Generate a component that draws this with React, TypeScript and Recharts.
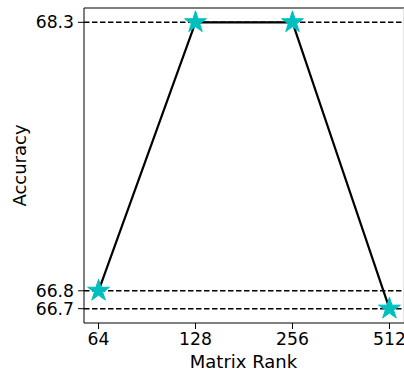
import { LineChart, Line, XAxis, YAxis, ReferenceLine } from "recharts";

const ranks = ["64", "128", "256", "512"];
const accuracy = [66.8, 68.3, 68.3, 66.7];
const yTicks = [66.7, 66.8, 68.3];

const data = ranks.map((r, i) => ({ idx: i, rank: r, acc: accuracy[i] }));

const FONT = "DejaVu Sans";

function Star(props: any) {
  const { cx, cy } = props;
  if (cx == null || cy == null) return null;
  const R = 11.5;
  const r = R * 0.382;
  const pts: string[] = [];
  for (let k = 0; k < 10; k++) {
    const rad = k % 2 === 0 ? R : r;
    const a = -Math.PI / 2 + (k * Math.PI) / 5;
    pts.push(`${cx + rad * Math.cos(a)},${cy + rad * Math.sin(a)}`);
  }
  return <polygon points={pts.join(" ")} fill="#00BFBF" stroke="#00BFBF" strokeWidth={1} />;
}

export default function App() {
  const tick = { fill: "#000", fontSize: 17.2, fontFamily: FONT };
  return (
    <div style={{ position: "absolute", left: 0, top: 0, background: "#fff" }}>
      <LineChart width={404} height={371} data={data} margin={{ top: 8, right: 0, bottom: 0, left: 0 }}>
        <XAxis
          dataKey="idx"
          type="number"
          domain={[-0.15, 3.15]}
          ticks={[0, 1, 2, 3]}
          interval={0}
          tickFormatter={(i: number) => ranks[i]}
          allowDataOverflow
          height={48}
          tick={tick}
          tickSize={6}
          tickMargin={4}
          axisLine={{ stroke: "#000" }}
          tickLine={{ stroke: "#000" }}
        />
        <YAxis
          type="number"
          domain={[66.62, 68.38]}
          ticks={yTicks}
          interval={0}
          tickFormatter={(v: number) => v.toFixed(1)}
          allowDataOverflow
          width={84}
          tick={tick}
          tickSize={6}
          tickMargin={4}
          axisLine={{ stroke: "#000" }}
          tickLine={{ stroke: "#000" }}
        />
        <ReferenceLine y={68.38} stroke="#000" strokeWidth={1} />
        <ReferenceLine x={3.15} stroke="#c8c8c8" strokeWidth={1} />
        {yTicks.map((v) => (
          <ReferenceLine key={v} y={v} stroke="#000" strokeWidth={1.5} strokeDasharray="5.5 2.5" />
        ))}
        <Line
          dataKey="acc"
          type="linear"
          stroke="#000"
          strokeWidth={2.2}
          dot={<Star />}
          activeDot={false}
          isAnimationActive={false}
        />
        <text x={243.5} y={368} textAnchor="middle" fontSize={18} fontFamily={FONT} fill="#000">
          Matrix Rank
        </text>
        <text
          x={26}
          y={165.5}
          transform="rotate(-90 26 165.5)"
          textAnchor="middle"
          fontSize={18}
          fontFamily={FONT}
          fill="#000"
        >
          Accuracy
        </text>
      </LineChart>
    </div>
  );
}
